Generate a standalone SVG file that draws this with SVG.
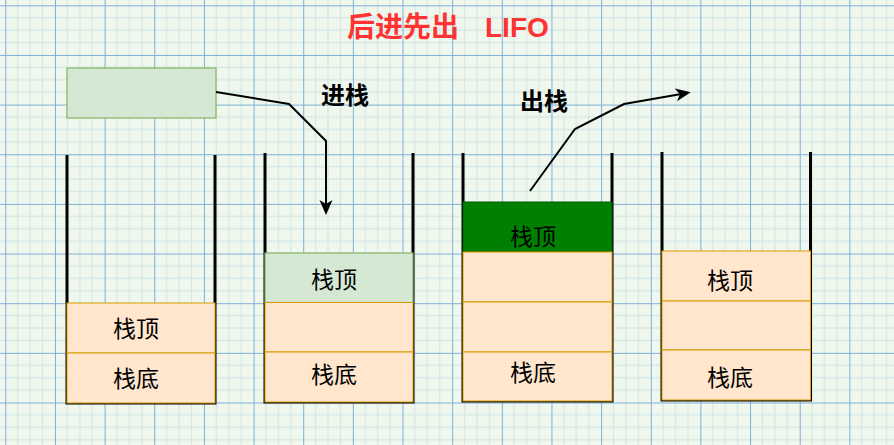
<svg xmlns="http://www.w3.org/2000/svg" width="894" height="445" viewBox="0 0 894 445">
<style>
.wall{fill:none;stroke:#000;stroke-width:3}
.cell{fill:#ffe6cc;stroke:#d79b00;stroke-width:1}
.top{fill:#d5e8d4;stroke:#82b366;stroke-width:1.2}
.dark{fill:#008000;stroke:#005700;stroke-width:1}
.t{font-family:"Noto Sans CJK SC","Noto Sans",sans-serif;font-size:23px;fill:#000;text-anchor:middle}
.lbl{font-family:"Noto Sans CJK SC","Noto Sans",sans-serif;font-size:24px;font-weight:bold;fill:#000;text-anchor:middle}
.conn{fill:none;stroke:#000;stroke-width:2;stroke-linejoin:miter}
</style>
<defs>
<pattern id="grid" patternUnits="userSpaceOnUse" x="5.3" y="5.3" width="49.65" height="49.65">
<rect width="49.65" height="49.65" fill="#f0f8ee"/>
<path d="M12.41 0V49.65M24.82 0V49.65M37.24 0V49.65M0 12.41H49.65M0 24.82H49.65M0 37.24H49.65" stroke="#d6e8e6" stroke-width="1.3"/>
<path d="M0.5 0V49.65M0 0.5H49.65" stroke="#7eaed8" stroke-width="1"/>
</pattern>
<marker id="arr" markerUnits="userSpaceOnUse" markerWidth="16" markerHeight="14" viewBox="0 -7 16 14" refX="4" refY="0" orient="auto">
<path d="M15 0L0 -6.5L4 0L0 6.5Z" fill="#000"/>
</marker>
</defs>
<rect width="894" height="445" fill="url(#grid)"/>
<g id="title">
<text x="403" y="37" font-family="'Noto Sans CJK SC',sans-serif" font-size="28" font-weight="bold" fill="#ff3333" text-anchor="middle">后进先出</text>
<text x="485" y="37" font-family="'Liberation Sans',Arial,sans-serif" font-size="28" font-weight="bold" fill="#ff3333">LIFO</text>
</g>
<g id="newItem"><rect class="top" x="67" y="68" width="149" height="50"/></g>
<g id="label-push"><text class="lbl" x="345" y="103.5">进栈</text></g>
<g id="label-pop"><text class="lbl" x="544" y="110">出栈</text></g>
<g id="stack1">
<path class="wall" d="M67 155V403H215V155"/>
<rect class="cell" x="67" y="303" width="148" height="50"/>
<rect class="cell" x="67" y="353" width="148" height="50"/>
<text class="t" x="136" y="336.5">栈顶</text>
<text class="t" x="136" y="387">栈底</text>
</g>
<g id="stack2">
<path class="wall" d="M265 153V402H413V153"/>
<rect class="top" x="265" y="253" width="148" height="49.5"/>
<rect class="cell" x="265" y="302.5" width="148" height="49.5"/>
<rect class="cell" x="265" y="352" width="148" height="50"/>
<text class="t" x="334" y="287.5">栈顶</text>
<text class="t" x="334" y="383">栈底</text>
</g>
<g id="stack3">
<path class="wall" d="M463 153V401H612V153"/>
<rect class="dark" x="463" y="202" width="149" height="50"/>
<rect class="cell" x="463" y="252" width="149" height="50"/>
<rect class="cell" x="463" y="302" width="149" height="50"/>
<rect class="cell" x="463" y="352" width="149" height="49"/>
<text class="t" x="533" y="244.5">栈顶</text>
<text class="t" x="533" y="381">栈底</text>
</g>
<g id="stack4">
<path class="wall" d="M662 152V400H810.5V152"/>
<rect class="cell" x="662" y="251" width="148.5" height="50"/>
<rect class="cell" x="662" y="301" width="148.5" height="49"/>
<rect class="cell" x="662" y="350" width="148.5" height="50"/>
<text class="t" x="730" y="288.5">栈顶</text>
<text class="t" x="730" y="386">栈底</text>
</g>
<g id="connectors">
<path class="conn" d="M216 92L289 104L326 141V204" marker-end="url(#arr)"/>
<path class="conn" d="M530 191L575 129L624 104L679.9 94.2" marker-end="url(#arr)"/>
</g>
</svg>
